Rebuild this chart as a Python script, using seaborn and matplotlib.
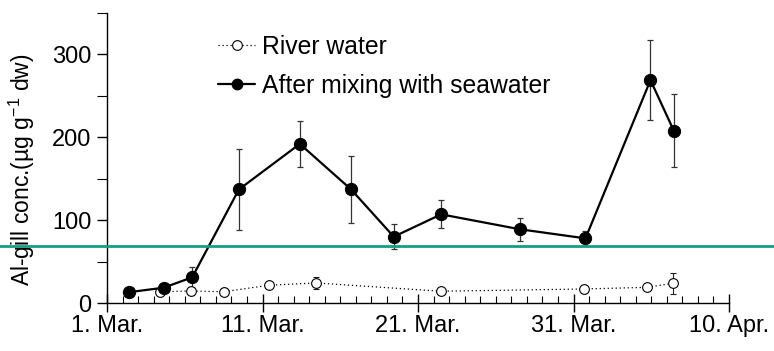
import matplotlib
matplotlib.use("Agg")
import matplotlib.pyplot as plt
import seaborn as sns
import numpy as np
from matplotlib.lines import Line2D
from matplotlib.ticker import MultipleLocator, FixedLocator

# ---- data (days after 1 March) ----
mix_days = [1.40, 3.65, 5.48, 8.48, 12.40, 15.70, 18.44, 21.49, 26.55, 30.77, 34.95, 36.45]
mix_vals = [13, 18.5, 31, 137, 192, 137, 80, 107, 89, 78, 269, 208]
mix_err = [2, 3, 12.5, 49, 28, 40.5, 15, 17, 14, 9, 48, 44]

river_days = [3.44, 5.37, 7.51, 10.45, 13.47, 21.45, 30.66, 34.70, 36.39]
river_vals = [13.5, 14.5, 13.6, 21.5, 24.2, 14.2, 16.9, 18.9, 23.7]
river_err = [2, 5, 4, 3, 7.5, 3, 5, 2, 12.5]

threshold = 68.7

xtick_pos = [0, 10, 20, 30, 40]
xtick_labels = ["1. Mar.", "11. Mar.", "21. Mar.", "31. Mar.", "10. Apr."]
ytick_pos = [0, 100, 200, 300]

sns.set_style("ticks")
plt.rcParams["font.family"] = ["Liberation Sans", "DejaVu Sans"]
plt.rcParams["mathtext.fontset"] = "custom"
plt.rcParams["mathtext.rm"] = "Liberation Sans"
plt.rcParams["mathtext.it"] = "Liberation Sans"
plt.rcParams["mathtext.default"] = "regular"
plt.rcParams["text.color"] = "black"
plt.rcParams["axes.labelcolor"] = "black"
plt.rcParams["xtick.color"] = "black"
plt.rcParams["ytick.color"] = "black"

fig = plt.figure(figsize=(7.74, 3.51), dpi=100)
ax = fig.add_axes([107 / 774, 1 - 303 / 351, 622 / 774, 290 / 351])

# error bars
ax.errorbar(river_days, river_vals, yerr=river_err, fmt="none", ecolor="#222222",
            elinewidth=0.8, capsize=2.2, capthick=0.8, zorder=2)
ax.errorbar(mix_days, mix_vals, yerr=mix_err, fmt="none", ecolor="#333333",
            elinewidth=0.9, capsize=2.5, capthick=0.9, zorder=2)

sns.lineplot(x=river_days, y=river_vals, ax=ax, color="black", linestyle=(0, (1, 2.2)),
             linewidth=0.9, marker="o", markersize=7, markerfacecolor="white",
             markeredgecolor="black", markeredgewidth=0.8, zorder=3, legend=False)
sns.lineplot(x=mix_days, y=mix_vals, ax=ax, color="black", linestyle="-",
             linewidth=1.6, marker="o", markersize=8.8, markerfacecolor="black",
             markeredgecolor="black", zorder=4, legend=False)

ax.axhline(threshold, xmin=-0.3, xmax=1.2, color="#13a084", linewidth=2.0,
           clip_on=False, zorder=10)

ax.set_xlim(0, 40)
ax.set_ylim(0, 350)
ax.xaxis.set_major_locator(FixedLocator(xtick_pos))
ax.set_xticklabels(xtick_labels)
ax.xaxis.set_minor_locator(MultipleLocator(1))
ax.yaxis.set_major_locator(FixedLocator(ytick_pos))
ax.yaxis.set_minor_locator(MultipleLocator(50))

for s in ["top", "right"]:
    ax.spines[s].set_visible(False)
for s in ["left", "bottom"]:
    ax.spines[s].set_linewidth(1.0)
    ax.spines[s].set_color("black")

ax.tick_params(axis="x", which="major", direction="inout", length=13, width=1.0,
               labelsize=17, pad=2, colors="black")
ax.tick_params(axis="x", which="minor", direction="in", length=5, width=0.8, colors="black")
ax.tick_params(axis="y", which="major", direction="out", length=7, width=1.0,
               labelsize=17, pad=4, colors="black")
ax.tick_params(axis="y", which="minor", direction="out", length=7, width=0.8, colors="black")

ax.set_ylabel(r"Al-gill conc.(µg g$^{-1}$ dw)", fontsize=16.5, color="black")
ax.yaxis.set_label_coords(-0.113, 0.46)

handles = [
    Line2D([], [], color="black", linestyle=(0, (1, 2.2)), linewidth=0.9, marker="o",
           markersize=7, markerfacecolor="white", markeredgecolor="black",
           markeredgewidth=0.8),
    Line2D([], [], color="black", linestyle="-", linewidth=1.6, marker="o",
           markersize=7.5, markerfacecolor="black", markeredgecolor="black"),
]
labels = ["River water", "After mixing with seawater"]
leg = fig.legend(handles, labels, loc="upper left", bbox_to_anchor=(218 / 774, 1 - 35 / 351),
                 frameon=False, fontsize=17.8, handlelength=1.5, handletextpad=0.3,
                 labelspacing=0.6, borderaxespad=0, borderpad=0)
for t in leg.get_texts():
    t.set_color("black")

fig.savefig("out.png", dpi=100)
